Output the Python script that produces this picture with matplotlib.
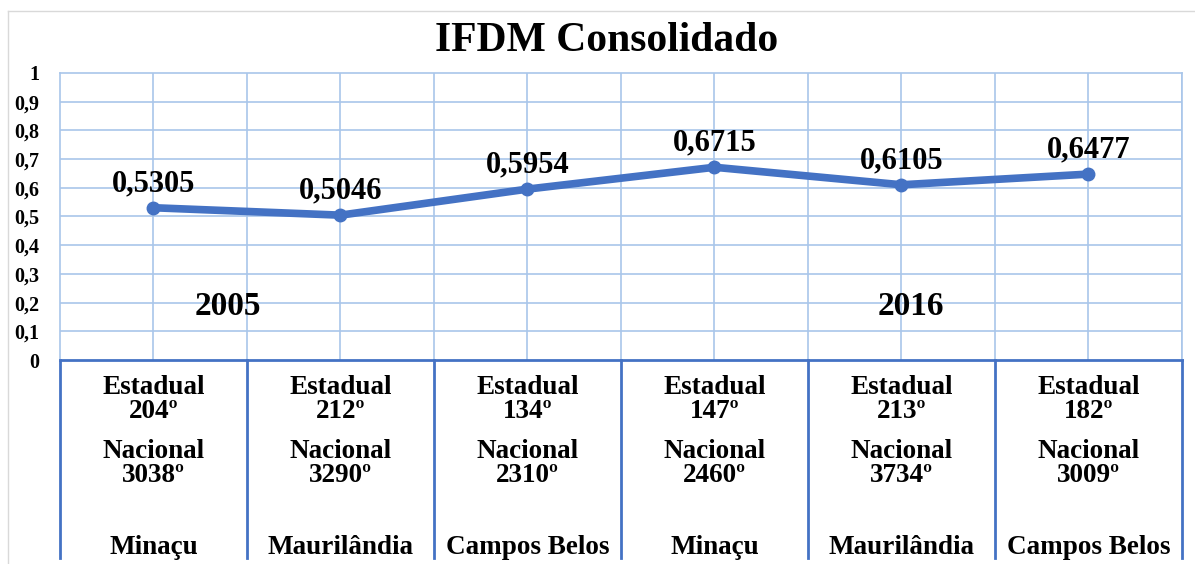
import matplotlib.pyplot as plt
from matplotlib.lines import Line2D

cidades = ['Minaçu', 'Maurilândia', 'Campos Belos', 'Minaçu', 'Maurilândia', 'Campos Belos']
ifdm = [0.5305, 0.5046, 0.5954, 0.6715, 0.6105, 0.6477]
rank_estadual = [204, 212, 134, 147, 213, 182]
rank_nacional = [3038, 3290, 2310, 2460, 3734, 3009]
anos = ['2005', '2016']
anos_x = [0.4, 4.05]

AZUL = '#4472C4'
GRADE = '#A9C6EA'
plt.rcParams['font.family'] = ['Liberation Serif', 'DejaVu Serif']
plt.rcParams['font.weight'] = 'bold'

fig = plt.figure(figsize=(11.95, 5.64), dpi=100)
ax = fig.add_axes([0.0502, 0.3617, 0.9389, 0.5089])

x = list(range(len(ifdm)))
ax.plot(x, ifdm, color=AZUL, lw=5.5, marker='o', ms=9, solid_capstyle='round', zorder=5)
for xi, v in zip(x, ifdm):
    ax.annotate(f'{v:.4f}'.replace('.', ','), (xi, v), xytext=(0, 24),
                textcoords='offset pixels', ha='center', va='center',
                fontsize=22, fontweight='bold')

ax.set_xlim(-0.5, len(ifdm) - 0.5)
ax.set_ylim(0, 1)
ax.set_yticks([i / 10 for i in range(11)])
ax.set_yticklabels(['0'] + [f'0,{i}' for i in range(1, 10)] + ['1'], fontsize=14.5, fontweight='bold')
ax.tick_params(axis='y', length=0, pad=15)
ax.set_xticks([])

# grade: linhas horizontais e verticais (centros e limites)
for i in range(1, 10):
    ax.axhline(i / 10, color=GRADE, lw=1.2, zorder=1)
for i in range(len(ifdm)):
    ax.axvline(i, color=GRADE, lw=1.2, zorder=1)
    ax.axvline(i + 0.5, color=GRADE, lw=1.2, zorder=1)
for s in ['top', 'left', 'right']:
    ax.spines[s].set_color(GRADE)
    ax.spines[s].set_linewidth(1.2)
ax.spines['bottom'].set_color(AZUL)
ax.spines['bottom'].set_linewidth(2)

# tabela abaixo do eixo
for i in range(len(ifdm) + 1):
    ax.plot([i - 0.5, i - 0.5], [0, -0.69], color=AZUL, lw=2, clip_on=False)
for i, cidade in enumerate(cidades):
    kw = dict(ha='center', va='center', fontsize=19.5, fontweight='bold',
              clip_on=False, linespacing=0.95)
    ax.text(i, -0.139, f'Estadual\n{rank_estadual[i]}º', **kw)
    ax.text(i, -0.359, f'Nacional\n{rank_nacional[i]}º', **kw)
    ax.text(i, -0.652, cidade, **kw)

for ano, xa in zip(anos, anos_x):
    ax.text(xa, 0.185, ano, ha='center', va='center', fontsize=24, fontweight='bold')

fig.text(0.508, 0.9096, 'IFDM Consolidado', ha='center', va='baseline',
         fontsize=30, fontweight='bold')

# borda do grafico
fig.add_artist(Line2D([8 / 1195, 1], [1 - 11 / 564] * 2, color='#D9D9D9', lw=1))
fig.add_artist(Line2D([8 / 1195] * 2, [0, 1 - 11 / 564], color='#D9D9D9', lw=1))

fig.savefig('out.png', dpi=100)
